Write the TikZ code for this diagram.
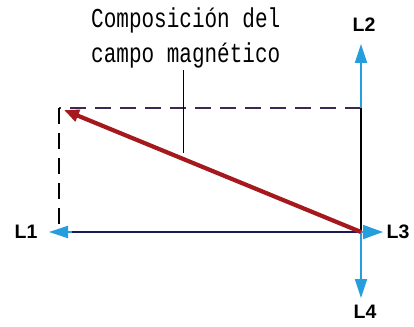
\documentclass[tikz,border=0pt]{standalone}
\usepackage{fontspec}
\setmainfont{Liberation Sans}
\newfontfamily\monofam{Liberation Mono}
\usetikzlibrary{arrows.meta}
\definecolor{lblue}{RGB}{38,158,222}
\definecolor{navy}{RGB}{25,25,90}
\definecolor{dred}{RGB}{165,25,30}
\definecolor{dpurple}{RGB}{60,40,80}
\tikzset{
  lbl/.style={font=\bfseries\fontsize{19.5}{19.5}\selectfont, inner sep=0pt},
  bluearrow/.style={lblue, line width=1.8pt, -{Triangle[length=19pt,width=12pt]}},
  dashline/.style={dpurple, line width=1.1pt, dash pattern=on 16pt off 9pt},
}
\begin{document}
\begin{tikzpicture}[x=1pt,y=-1pt]
\useasboundingbox (0,0) rectangle (414,326);
\fill[white] (0,0) rectangle (414,326);
% corners
\coordinate (O) at (361,232);
\coordinate (TR) at (361,108);
\coordinate (TL) at (59,108);
\coordinate (BL) at (59,232);
\coordinate (T2) at (361,44);
\coordinate (T4) at (361,298);
\coordinate (T1) at (49,232);
\coordinate (T3) at (383,232);
\coordinate (R) at (64,110);
% labels
\node[lbl] (L2) at (364,25) {L2};
\node[lbl] (L1) at (26,232) {L1};
\node[lbl] (L3) at (398,232) {L3};
\node[lbl] (L4) at (365,312) {L4};
% text
\node[inner sep=0pt, anchor=north west, align=left] (txt) at (91,8)
  {\scalebox{1}[1.3]{\monofam\fontsize{21}{21}\selectfont Composición del}\\[8pt]
   \scalebox{1}[1.3]{\monofam\fontsize{21}{21}\selectfont campo magnético}};
% dashed rectangle sides
\draw[dashline] (TR) -- (TL);
\draw[dashline, black] (TL) -- (BL);
% solid right side
\draw[black, line width=1.3pt] (TR) -- (O);
% bottom line
\draw[navy, line width=1.9pt] (O) -- (70,232);
% blue arrows
\draw[bluearrow] (TR) -- (T2);
\draw[bluearrow] (O) -- (T4);
\draw[bluearrow] (72,232) -- (T1);
\draw[lblue, line width=1.8pt, -{Triangle[length=20pt,width=14pt]}] (O) -- (T3);
% red resultant
\draw[dred, line width=4.2pt, -{Triangle[length=15pt,width=12pt]}] (O) -- (R);
% leader
\coordinate (lead) at (183,153);
\draw[black, line width=0.9pt] (183,70) -- (lead);
\end{tikzpicture}
\end{document}
